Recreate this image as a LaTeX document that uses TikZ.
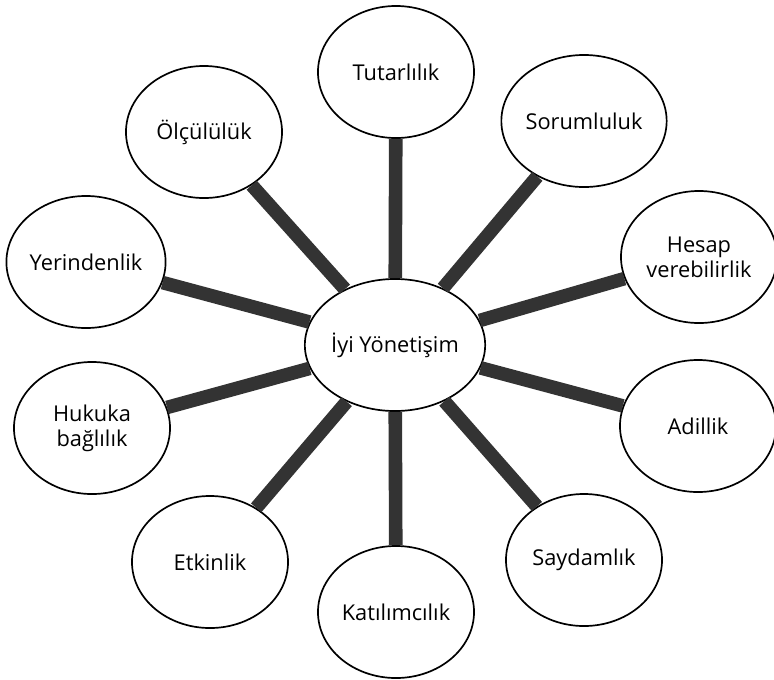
\documentclass[tikz,border=0pt]{standalone}
\usepackage{fontspec}
\setmainfont{Open Sans}
\usetikzlibrary{shapes.geometric}
\begin{document}
\begin{tikzpicture}[x = 0.025cm, y = -0.025cm,
    bubble/.style = {ellipse, draw, line width = 1.2pt, fill = white,
                     minimum width = 3.9cm, minimum height = 3.3cm,
                     inner sep = 0pt, align = center,
                     font = \fontsize{15.5}{18}\selectfont},
    spoke/.style  = {line width = 0.34cm, black!80}]
  \useasboundingbox (0, 0) rectangle (774, 679);
  \node[bubble] (ctr) at (395, 345) {İyi Yönetişim};
  \node[bubble] (tut) at (396,  72) {Tutarlılık};
  \node[bubble] (sor) at (584, 121) {Sorumluluk};
  \node[bubble] (hes) at (699, 257) {Hesap\\verebilirlik};
  \node[bubble] (adi) at (698, 426) {Adillik};
  \node[bubble] (say) at (584, 560) {Saydamlık};
  \node[bubble] (kat) at (396, 612) {Katılımcılık};
  \node[bubble] (etk) at (210, 562) {Etkinlik};
  \node[bubble] (huk) at ( 92, 428) {Hukuka\\bağlılık};
  \node[bubble] (yer) at ( 86, 262) {Yerindenlik};
  \node[bubble] (olc) at (204, 132) {Ölçülülük};
  % spokes
  \foreach \n in {tut, sor, hes, adi, say, kat, etk, huk, yer, olc}
    \draw[spoke] (ctr) -- (\n);
\end{tikzpicture}
\end{document}
